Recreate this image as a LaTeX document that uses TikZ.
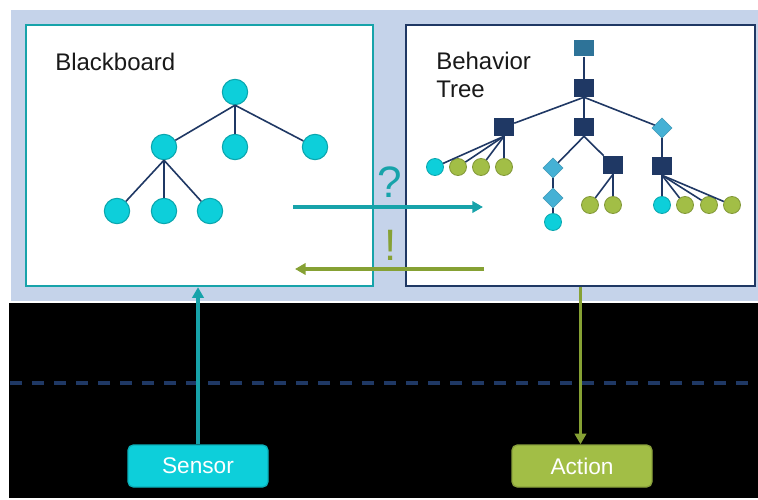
\documentclass[tikz,border=0pt]{standalone}
\usepackage{fontspec}
\setmainfont{Liberation Sans}
\usetikzlibrary{arrows.meta,shapes.geometric}

\definecolor{band}{HTML}{C5D3EA}
\definecolor{tealline}{HTML}{17A3AA}
\definecolor{cyanfill}{HTML}{0DCFDA}
\definecolor{navy}{HTML}{1F3864}
\definecolor{leaf}{HTML}{A2BE46}
\definecolor{olive}{HTML}{86A134}
\definecolor{cond}{HTML}{45B1D5}
\definecolor{rootsq}{HTML}{2E7398}

\begin{document}
\begin{tikzpicture}[x=0.75pt, y=-0.75pt,
  every node/.style={font=\fontsize{18}{21}\selectfont, text=black!90},
  frame/.style={draw=#1, line width=1.8pt, fill=white, inner sep=0pt,
                minimum width=260pt, minimum height=195.75pt},
  title/.style={anchor=base west, inner sep=0pt, align=left},
  ball/.style={circle, fill=#1, draw=#1!80!black, line width=0.6pt,
               minimum size=12.75pt, inner sep=0pt},
  bigball/.style={ball=cyanfill, minimum size=19pt, line width=0.8pt},
  seq/.style={rectangle, fill=navy, minimum width=15pt, minimum height=13.5pt, inner sep=0pt},
  cnd/.style={diamond, fill=cond, draw=cond!85!black, line width=0.4pt,
              minimum size=15pt, inner sep=0pt},
  edge/.style={draw=navy, line width=1.2pt},
  arrow/.style={-{Triangle[length=8pt,width=8.5pt]}, line width=2.6pt, #1},
  pill/.style={rounded corners=4pt, fill=#1, draw=#1!85!black, line width=1pt,
               minimum width=105pt, minimum height=31.5pt,
               font=\fontsize{17}{17}\selectfont, text=white},
  mark/.style={font=\fontsize{33}{33}\selectfont, text=#1},
]
\useasboundingbox (0,0) rectangle (758,500);

% ── Background ──
\fill[white] (0,0) rectangle (758,500);
\fill[band] (11,10) rectangle (758,301);
\fill[black] (9,303) rectangle (758,498);
\draw[navy, line width=2.4pt, dash pattern=on 9pt off 7.5pt] (10,383) -- (758,383);

% ── Frames ──
\node[frame=tealline] (bb) at (199.5,155.5) {};
\node[frame=navy, minimum width=261.75pt] (bt) at (580.5,155.5) {};
\node[title] (bbtitle) at (55,70) {Blackboard};
\node[title] (bttitle) at (436,97) {Behavior\\Tree};

% ── Blackboard tree ──
\node[bigball] (b0) at (235,92) {};
\node[bigball] (b1) at (164,147) {};
\node[bigball] (b2) at (235,147) {};
\node[bigball] (b3) at (315,147) {};
\node[bigball] (b11) at (117,211) {};
\node[bigball] (b12) at (164,211) {};
\node[bigball] (b13) at (210,211) {};
\foreach \c in {b1,b2,b3}
  \draw[edge] (b0.south) -- (\c);
\foreach \c in {b11,b12,b13}
  \draw[edge] (b1.south) -- (\c);

% ── Behavior tree ──
\node[seq, fill=rootsq, minimum width=15.5pt, minimum height=12.5pt] (t0) at (584,48) {};
\node[seq] (t1) at (584,88) {};
\node[seq] (t2) at (504,127) {};
\node[seq] (t3) at (584,127) {};
\node[cnd] (t4) at (662,128) {};
\node[ball=cyanfill] (t21) at (435,167) {};
\node[ball=leaf] (t22) at (458,167) {};
\node[ball=leaf] (t23) at (481,167) {};
\node[ball=leaf] (t24) at (504,167) {};
\node[cnd] (t31) at (553,168) {};
\node[cnd] (t311) at (553,198) {};
\node[ball=cyanfill] (t312) at (553,222) {};
\node[seq] (t32) at (613,165) {};
\node[ball=leaf] (t321) at (590,205) {};
\node[ball=leaf] (t322) at (613,205) {};
\node[seq] (t41) at (662,166) {};
\node[ball=cyanfill] (t411) at (662,205) {};
\node[ball=leaf] (t412) at (685,205) {};
\node[ball=leaf] (t413) at (709,205) {};
\node[ball=leaf] (t414) at (732,205) {};

\draw[edge] (t0) -- (t1);
\foreach \c in {t2,t3,t4}
  \draw[edge] (t1.south) -- (\c);
\foreach \c in {t21,t22,t23,t24}
  \draw[edge] (t2.south) -- (\c);
\foreach \c in {t31,t32}
  \draw[edge] (t3.south) -- (\c);
\draw[edge] (t31) -- (t311);
\draw[edge] (t311) -- (t312);
\foreach \c in {t321,t322}
  \draw[edge] (t32.south) -- (\c);
\draw[edge] (t4) -- (t41);
\foreach \c in {t411,t412,t413,t414}
  \draw[edge] (t41.south) -- (\c);

% ── Query / answer ──
\coordinate (qs) at (293,207);
\coordinate (qe) at (483,207);
\coordinate (as) at (484,269);
\coordinate (ae) at (295,269);
\draw[arrow=tealline] (qs) -- (qe);
\draw[arrow=olive] (as) -- (ae);
\node[mark=tealline] (ask) at (390,182) {?};
\node[mark=olive] (tell) at (391,245) {!};

% ── Sensor / Action ──
\node[pill=cyanfill] (sensor) at (198,466) {Sensor};
\node[pill=leaf] (action) at (582,466) {Action};
\draw[arrow=tealline] (sensor.north) -- (sensor.north |- bb.south);
\draw[arrow=olive] (bt.south) -- (bt.south |- action.north);

\end{tikzpicture}
\end{document}
